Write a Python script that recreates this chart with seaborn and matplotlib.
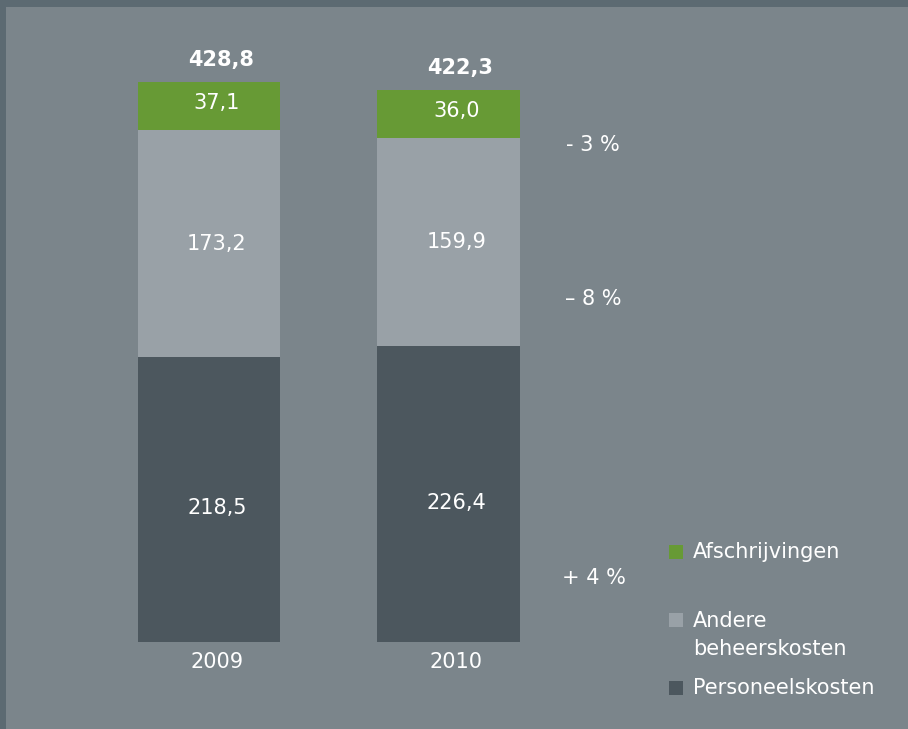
import matplotlib
matplotlib.use("Agg")
import matplotlib.pyplot as plt
import seaborn as sns
import pandas as pd
from matplotlib.patches import Rectangle

years = ["2009", "2010"]
personeel = [218.5, 226.4]
andere = [173.2, 159.9]
afschr = [37.1, 36.0]
totals = [428.8, 422.3]
changes = ["- 3 %", "– 8 %", "+ 4 %"]
series_names = ["Afschrijvingen", "Andere\nbeheerskosten", "Personeelskosten"]

c_green = "#679a35"
c_light = "#99a1a7"
c_dark = "#4c575e"
c_bg = "#7b858b"
c_border = "#5c6a72"

W, H = 908, 729
sns.set_theme(style="white")
plt.rcParams['font.family'] = ['DejaVu Sans']
fig = plt.figure(figsize=(W / 100, H / 100), dpi=100)
fig.patch.set_facecolor(c_border)

L, T = 6, 7
ax = fig.add_axes([L / W, 0, (W - L) / W, (H - T) / H])
ax.set_facecolor(c_bg)

df = pd.DataFrame({
    "year": years,
    "top": [p + a + g for p, a, g in zip(personeel, andere, afschr)],
    "mid": [p + a for p, a in zip(personeel, andere)],
    "low": personeel,
})
bw = 142 / 239.5
for col, c in [("top", c_green), ("mid", c_light), ("low", c_dark)]:
    sns.barplot(data=df, x="year", y=col, color=c, width=bw, ax=ax,
                saturation=1, linewidth=0, edgecolor="none")

s = 239.5
a = -(209 - L) / s
ax.set_xlim(a, a + (W - L) / s)
k = 560 / 428.8
ax.set_ylim(-(H - 642) / k, (642 - T) / k)
for sp in ax.spines.values():
    sp.set_visible(False)
ax.set_xticks([])
ax.set_yticks([])
ax.set_xlabel("")
ax.set_ylabel("")

FS = 15

def fmt(v):
    return f"{v:.1f}".replace(".", ",")

dx = 8 / s
for i in range(2):
    p, an, g = personeel[i], andere[i], afschr[i]
    ax.text(i + dx, p / 2 - 9 / k, fmt(p), ha="center", va="center", color="white", fontsize=FS)
    ax.text(i + dx, p + an / 2, fmt(an), ha="center", va="center", color="white", fontsize=FS)
    ax.text(i + dx, p + an + g / 2 + 3 / k, fmt(g), ha="center", va="center", color="white", fontsize=FS)
    ax.text(i + 12 / s, totals[i] + 22 / k, fmt(totals[i]), ha="center", va="center",
            color="white", fontsize=FS, fontweight="bold")
    ax.text(i + dx, -20 / k, years[i], ha="center", va="center", color="white", fontsize=FS)

def px(x, y):
    return (x / W, 1 - y / H)

for txt, (x, y) in zip(changes, [(593, 145), (593, 299), (594, 578)]):
    fig.text(*px(x, y), txt, ha="center", va="center", color="white", fontsize=FS)

legend_colors = [c_green, c_light, c_dark]
sq_y = [545, 613, 681]
txt_y = [552, 635, 688]
for c, sy, ty, name in zip(legend_colors, sq_y, txt_y, series_names):
    x0, y0 = px(669, sy + 14)
    fig.patches.append(Rectangle((x0, y0), 14 / W, 14 / H, transform=fig.transFigure,
                                 facecolor=c, edgecolor="none"))
    fig.text(*px(693, ty), name, ha="left", va="center", color="white", fontsize=FS,
             linespacing=1.45)

fig.savefig("out.png", dpi=100, facecolor=fig.get_facecolor())
